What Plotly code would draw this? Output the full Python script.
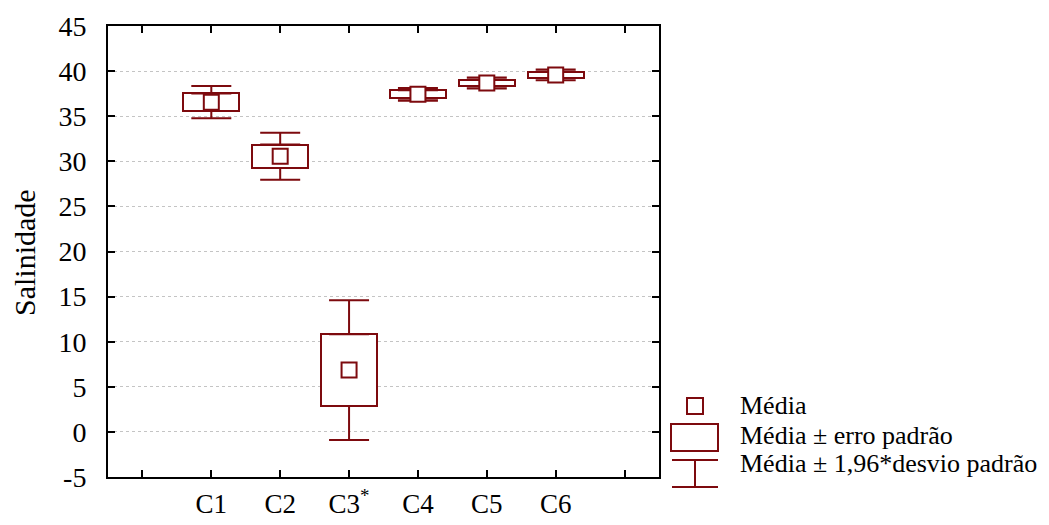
import plotly.graph_objects as go

# ---- data ----
categories = ["C1", "C2", "C3<sup>*</sup>", "C4", "C5", "C6"]
means = [36.56, 30.56, 6.85, 37.42, 38.68, 39.58]          # Média
std_err = [0.97, 1.30, 3.98, 0.45, 0.37, 0.35]              # erro padrão
ci196 = [1.78, 2.60, 7.74, 0.72, 0.62, 0.60]                # 1,96*desvio padrão
y_tick_vals = [-5, 0, 5, 10, 15, 20, 25, 30, 35, 40, 45]
y_tick_text = ["-5", "0", "5", "10", "15", "20", "25", "30", "35", "40", "45"]
legend_labels = ["Média", "Média ± erro padrão", "Média ± 1,96*desvio padrão"]

RED = "#7d0a0e"
FONT = "Liberation Serif, Times New Roman, serif"
OFF = 8                      # page body margin
W, H = 1049 - 2 * OFF, 525 - 2 * OFF
L = 108 - OFF
T = 26 - OFF
R = W - (659 - OFF)
B = H - (477 - OFF)

xpos = list(range(1, len(categories) + 1))
x_tick_vals = list(range(0, len(categories) + 2))
x_tick_text = [""] + categories + [""]

fig = go.Figure()

# box: mean ± SE
fig.add_trace(go.Bar(
    x=xpos, y=[2 * s for s in std_err], base=[m - s for m, s in zip(means, std_err)],
    width=0.81, marker=dict(color="white", line=dict(color=RED, width=2)),
    showlegend=False, hoverinfo="skip"))

# whiskers (drawn from box edges outwards)
fig.add_trace(go.Scatter(
    x=xpos, y=[m + s for m, s in zip(means, std_err)], mode="markers",
    marker=dict(size=1, color="rgba(0,0,0,0)"),
    error_y=dict(type="data", symmetric=False,
                 array=[c - s for c, s in zip(ci196, std_err)],
                 arrayminus=[0] * len(means), color=RED, thickness=2, width=20),
    showlegend=False, hoverinfo="skip"))
fig.add_trace(go.Scatter(
    x=xpos, y=[m - s for m, s in zip(means, std_err)], mode="markers",
    marker=dict(size=1, color="rgba(0,0,0,0)"),
    error_y=dict(type="data", symmetric=False,
                 array=[0] * len(means),
                 arrayminus=[c - s for c, s in zip(ci196, std_err)],
                 color=RED, thickness=2, width=20),
    showlegend=False, hoverinfo="skip"))

# mean squares
fig.add_trace(go.Scatter(
    x=xpos, y=means, mode="markers",
    marker=dict(symbol="square", size=15, color="white", line=dict(color=RED, width=2)),
    showlegend=False))

# ---- manual legend (paper coords from page-pixel positions) ----
pw, ph = W - L - R, H - T - B


def px(xp):
    return (xp - OFF - L) / pw


def py(yp):
    return (H - B - (yp - OFF)) / ph


shapes = [
    dict(type="rect", x0=px(687), x1=px(703), y0=py(414), y1=py(398)),
    dict(type="rect", x0=px(671), x1=px(718), y0=py(451), y1=py(424)),
    dict(type="line", x0=px(672), x1=px(718), y0=py(460), y1=py(460)),
    dict(type="line", x0=px(695), x1=px(695), y0=py(460), y1=py(487)),
    dict(type="line", x0=px(672), x1=px(718), y0=py(487), y1=py(487)),
]
for s in shapes:
    s.update(xref="paper", yref="paper", line=dict(color=RED, width=2))
    if s["type"] == "rect":
        s["fillcolor"] = "white"
fig.update_layout(shapes=shapes)

for lab, yy in zip(legend_labels, [405, 435, 463]):
    fig.add_annotation(xref="paper", yref="paper", x=px(738), y=py(yy),
                       text=lab, showarrow=False, xanchor="left", yanchor="middle",
                       font=dict(family=FONT, size=26, color="black"))

# y-axis title as rotated text
fig.add_annotation(xref="paper", yref="paper", x=px(24), y=py(253), text="Salinidade",
                   textangle=-90, showarrow=False, xanchor="center", yanchor="middle",
                   font=dict(family=FONT, size=30, color="black"))

fig.update_layout(
    width=W, height=H, margin=dict(l=L, r=R, t=T, b=B, autoexpand=False),
    paper_bgcolor="white", plot_bgcolor="white",
    bargap=0, showlegend=False,
    font=dict(family=FONT, size=26, color="black"),
    xaxis=dict(range=[-0.5, len(categories) + 1.5], tickvals=x_tick_vals, ticktext=x_tick_text,
               ticks="inside", ticklen=7, tickwidth=2, tickcolor="black",
               showline=True, linewidth=2, linecolor="black", mirror="ticks",
               showgrid=False, zeroline=False, ticklabelstandoff=2, automargin=False,
               tickfont=dict(family=FONT, size=27, color="black")),
    yaxis=dict(range=[-5, 45], tickvals=y_tick_vals, ticktext=y_tick_text,
               ticks="inside", ticklen=7, tickwidth=2, tickcolor="black",
               showline=True, linewidth=2, linecolor="black", mirror="ticks",
               showgrid=True, gridcolor="#c4c4c4", griddash="dot", gridwidth=1,
               zeroline=False, ticklabelstandoff=14, automargin=False,
               tickfont=dict(family=FONT, size=28, color="black")),
)

fig.write_html("out.html")
